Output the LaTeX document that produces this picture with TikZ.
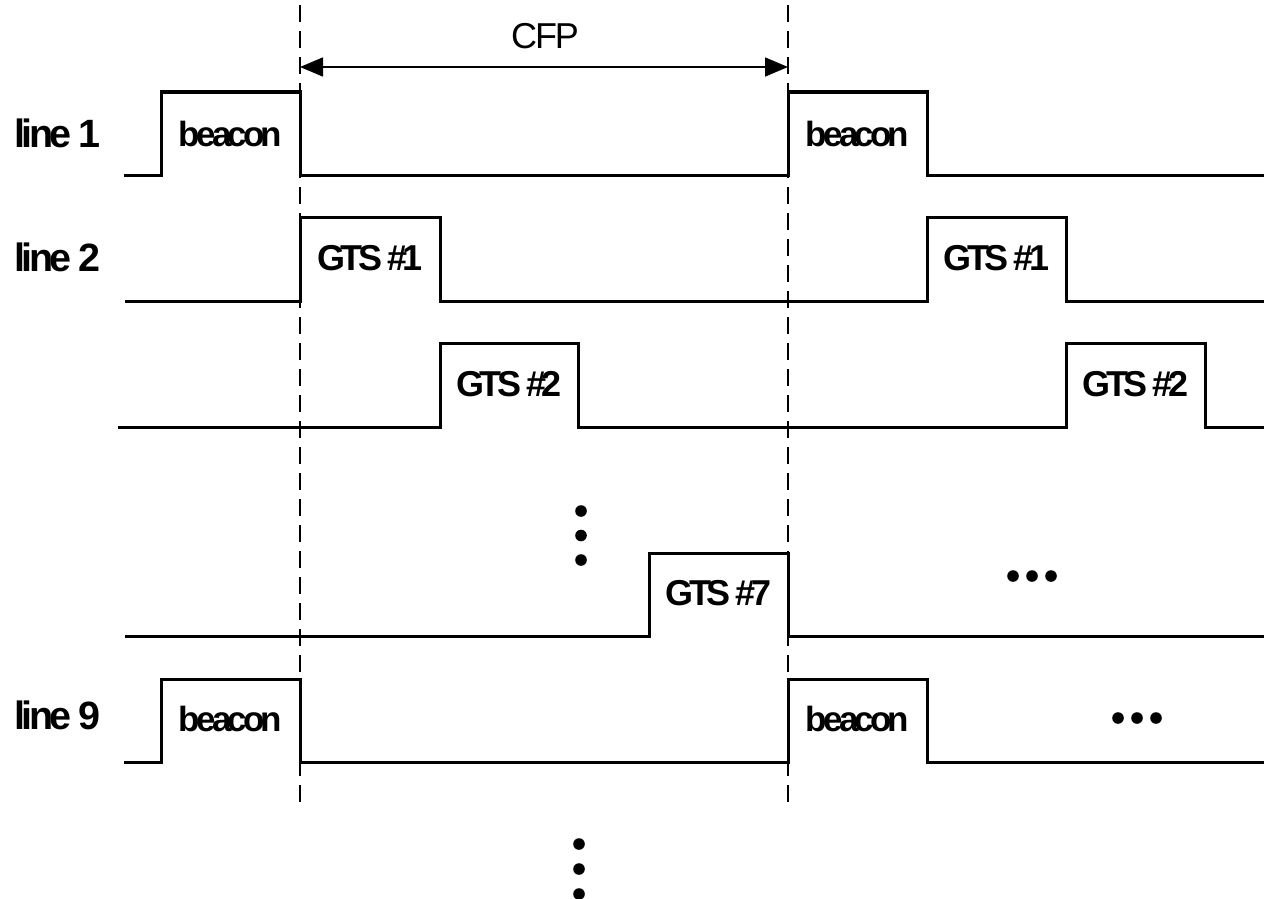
\documentclass[tikz,border=0pt]{standalone}
\usepackage{fontspec}
\setmainfont{Liberation Sans}
\newfontfamily\rowfont[LetterSpace=-9]{Liberation Sans}
\newfontfamily\pulsefont[LetterSpace=-11]{Liberation Sans}
\newfontfamily\gtsfont[LetterSpace=-13]{Liberation Sans}
\newfontfamily\cfpfont[LetterSpace=-6]{Liberation Sans}
\usetikzlibrary{arrows.meta}
\begin{document}
\begin{tikzpicture}[x=1pt,y=-1pt,
  sig/.style={line width=3pt, line join=miter},
  guide/.style={line width=1.8pt, dash pattern=on 17pt off 9pt},
  dimarrow/.style={line width=1.6pt, {Triangle[length=23pt,width=19pt]}-{Triangle[length=23pt,width=19pt]}},
  rowlbl/.style={inner sep=0pt, anchor=base west, font=\rowfont\bfseries\fontsize{39.5}{44}\selectfont},
  beaconlbl/.style={inner sep=0pt, anchor=base, font=\pulsefont\bfseries\fontsize{35}{40}\selectfont},
  gtslbl/.style={inner sep=0pt, anchor=base, font=\gtsfont\bfseries\fontsize{36}{40}\selectfont},
  cfplbl/.style={inner sep=0pt, anchor=base, font=\cfpfont\fontsize{36}{40}\selectfont},
  dot/.style={fill=black}
]
\useasboundingbox (0,0) rectangle (1264,899);

% guide lines
\coordinate (g1top) at (300,5);
\coordinate (g1bot) at (300,805);
\coordinate (g2top) at (788,5);
\coordinate (g2bot) at (788,805);
\draw[guide] (g1top) -- (g1bot);
\draw[guide] (g2top) -- (g2bot);

% CFP arrow
\coordinate (cfpL) at (300,67);
\coordinate (cfpR) at (788,67);
\draw[dimarrow] (cfpL) -- (cfpR);
\node[cfplbl] (cfp) at (545,49) {CFP};

% signals
\draw[sig] (124,175) -- (161,175) -- (161,92) -- (300,92) -- (300,175) -- (788,175) -- (788,92) -- (927,92) -- (927,175) -- (1264,175);
\draw[sig] (125,301) -- (300,301) -- (300,217) -- (440,217) -- (440,301) -- (927,301) -- (927,217) -- (1066,217) -- (1066,301) -- (1264,301);
\draw[sig] (118,427) -- (440,427) -- (440,343) -- (578,343) -- (578,427) -- (1066,427) -- (1066,343) -- (1205,343) -- (1205,427) -- (1264,427);
\draw[sig] (125,636) -- (649,636) -- (649,553) -- (788,553) -- (788,636) -- (1264,636);
\draw[sig] (124,762) -- (161,762) -- (161,679) -- (300,679) -- (300,762) -- (788,762) -- (788,679) -- (927,679) -- (927,762) -- (1264,762);

% row labels
\node[rowlbl] (l1) at (14,147) {line 1};
\node[rowlbl] (l2) at (14,271) {line 2};
\node[rowlbl] (l9) at (14,729) {line 9};

% pulse labels
\node[beaconlbl] (b1) at (230.5,146) {beacon};
\node[beaconlbl] (b2) at (857.5,146) {beacon};
\node[gtslbl] (g1a) at (370,270) {GTS \#1};
\node[gtslbl] (g1b) at (996.5,270) {GTS \#1};
\node[gtslbl] (g2a) at (509,396) {GTS \#2};
\node[gtslbl] (g2b) at (1135.5,396) {GTS \#2};
\node[gtslbl] (g7) at (718.5,605) {GTS \#7};
\node[beaconlbl] (b3) at (230.5,731) {beacon};
\node[beaconlbl] (b4) at (857.5,731) {beacon};

% ellipses
\fill[dot] (581,511) circle (5.8pt) (581,535.5) circle (5.8pt) (581,560) circle (5.8pt);
\fill[dot] (1013,576) circle (5.8pt) (1032,576) circle (5.8pt) (1051,576) circle (5.8pt);
\fill[dot] (1118,718) circle (5.8pt) (1137,718) circle (5.8pt) (1156,718) circle (5.8pt);
\fill[dot] (579,844) circle (5.8pt) (579,869) circle (5.8pt) (579,894) circle (5.8pt);
\end{tikzpicture}
\end{document}
